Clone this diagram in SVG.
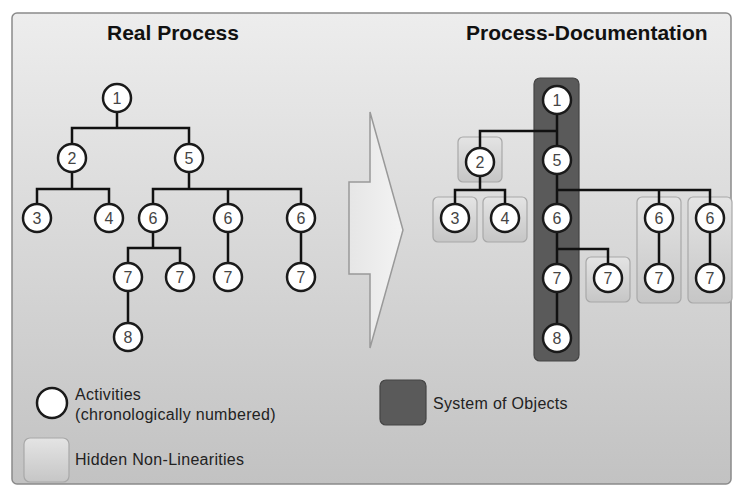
<svg xmlns="http://www.w3.org/2000/svg" width="733" height="487" viewBox="0 0 733 487">
<defs>
<linearGradient id="bg" x1="0" y1="0" x2="0" y2="1">
<stop offset="0" stop-color="#ededed"/>
<stop offset="1" stop-color="#c2c2c2"/>
</linearGradient>
<linearGradient id="lbox" x1="0" y1="0" x2="0" y2="1">
<stop offset="0" stop-color="#e4e4e4"/>
<stop offset="1" stop-color="#c6c6c6"/>
</linearGradient>
<linearGradient id="arr" x1="0" y1="0" x2="1" y2="0">
<stop offset="0" stop-color="#e6e6e6"/>
<stop offset="1" stop-color="#f3f3f3"/>
</linearGradient>
<style>
.act circle{fill:#fff;stroke:#1a1a1a;stroke-width:2.5}
.act text{font-family:"Liberation Sans",Arial,sans-serif;font-size:16px;fill:#444;text-anchor:middle}
.hnl{fill:url(#lbox);stroke:#a8a8a8;stroke-width:1.2}
.sys{fill:#5a5a5a;stroke:#444;stroke-width:1.2}
.conn{fill:none;stroke:#111;stroke-width:2.5}
.title{font-family:"Liberation Sans",Arial,sans-serif;font-size:21px;font-weight:bold;fill:#111}
.leg{font-family:"Liberation Sans",Arial,sans-serif;font-size:16px;letter-spacing:0.3px;fill:#222}
</style>
</defs>
<rect x="0" y="0" width="733" height="487" fill="#fff"/>
<rect x="12" y="13" width="719" height="471" rx="5" fill="url(#bg)" stroke="#8a8a8a" stroke-width="1.5"/>
<text class="title" x="107" y="40">Real Process</text>
<text class="title" x="466" y="40">Process-Documentation</text>
<g id="arrow">
<path d="M370,112 L403,230 L370,348 L370,274 L349,274 L349,182 L370,182 Z" fill="url(#arr)" stroke="#999" stroke-width="1.5"/>
</g>
<g id="system-of-objects"><rect class="sys" x="534" y="78" width="45" height="283" rx="6"/></g>
<g id="hidden-nonlinearities">
<rect class="hnl" x="458" y="137" width="44" height="45" rx="5"/>
<rect class="hnl" x="433" y="197" width="44" height="45" rx="5"/>
<rect class="hnl" x="483" y="197" width="44" height="45" rx="5"/>
<rect class="hnl" x="586" y="257" width="44" height="45" rx="5"/>
<rect class="hnl" x="637" y="197" width="44" height="106" rx="5"/>
<rect class="hnl" x="688" y="197" width="44" height="106" rx="5"/>
</g>
<g id="connectors">
<path class="conn" d="M117,113 V128 M72,143 V128 H189 V143 M72,173 V189 M37,203 V189 H109 V203 M189,173 V189 M153,203 V189 H301 V203 M228,189 V203 M153,233 V248 M128,262 V248 H180 V262 M228,233 V262 M301,233 V262 M128,292 V322"/>
<path class="conn" d="M557,115 V145 M557,131 H480 V147 M480,177 V190 M455,203 V190 H505 V203 M557,175 V203 M557,190 H710 V203 M659,190 V203 M557,233 V263 M557,249 H608 V263 M557,293 V323 M659,233 V263 M710,233 V263"/>
</g>
<g id="r1" class="act"><circle cx="117" cy="98" r="14"/><text x="117" y="104">1</text></g>
<g id="r2" class="act"><circle cx="72" cy="158" r="14"/><text x="72" y="164">2</text></g>
<g id="r5" class="act"><circle cx="189" cy="158" r="14"/><text x="189" y="164">5</text></g>
<g id="r3" class="act"><circle cx="37" cy="218" r="14"/><text x="37" y="224">3</text></g>
<g id="r4" class="act"><circle cx="109" cy="218" r="14"/><text x="109" y="224">4</text></g>
<g id="r6a" class="act"><circle cx="153" cy="218" r="14"/><text x="153" y="224">6</text></g>
<g id="r6b" class="act"><circle cx="228" cy="218" r="14"/><text x="228" y="224">6</text></g>
<g id="r6c" class="act"><circle cx="301" cy="218" r="14"/><text x="301" y="224">6</text></g>
<g id="r7a" class="act"><circle cx="128" cy="277" r="14"/><text x="128" y="283">7</text></g>
<g id="r7b" class="act"><circle cx="180" cy="277" r="14"/><text x="180" y="283">7</text></g>
<g id="r7c" class="act"><circle cx="228" cy="277" r="14"/><text x="228" y="283">7</text></g>
<g id="r7d" class="act"><circle cx="301" cy="277" r="14"/><text x="301" y="283">7</text></g>
<g id="r8" class="act"><circle cx="128" cy="337" r="14"/><text x="128" y="343">8</text></g>
<g id="d1" class="act"><circle cx="557" cy="100" r="14"/><text x="557" y="106">1</text></g>
<g id="d2" class="act"><circle cx="480" cy="162" r="14"/><text x="480" y="168">2</text></g>
<g id="d5" class="act"><circle cx="557" cy="160" r="14"/><text x="557" y="166">5</text></g>
<g id="d3" class="act"><circle cx="455" cy="218" r="14"/><text x="455" y="224">3</text></g>
<g id="d4" class="act"><circle cx="505" cy="218" r="14"/><text x="505" y="224">4</text></g>
<g id="d6a" class="act"><circle cx="557" cy="218" r="14"/><text x="557" y="224">6</text></g>
<g id="d6b" class="act"><circle cx="659" cy="218" r="14"/><text x="659" y="224">6</text></g>
<g id="d6c" class="act"><circle cx="710" cy="218" r="14"/><text x="710" y="224">6</text></g>
<g id="d7a" class="act"><circle cx="557" cy="278" r="14"/><text x="557" y="284">7</text></g>
<g id="d7b" class="act"><circle cx="608" cy="278" r="14"/><text x="608" y="284">7</text></g>
<g id="d7c" class="act"><circle cx="659" cy="278" r="14"/><text x="659" y="284">7</text></g>
<g id="d7d" class="act"><circle cx="710" cy="278" r="14"/><text x="710" y="284">7</text></g>
<g id="d8" class="act"><circle cx="557" cy="338" r="14"/><text x="557" y="344">8</text></g>
<g id="legend-activities">
<g class="act"><circle cx="52" cy="403" r="15"/></g>
<text class="leg" x="75" y="400">Activities</text>
<text class="leg" x="75" y="420">(chronologically numbered)</text>
</g>
<g id="legend-hidden">
<rect class="hnl" x="24" y="438" width="45" height="44" rx="6"/>
<text class="leg" x="75" y="465">Hidden Non-Linearities</text>
</g>
<g id="legend-system">
<rect class="sys" x="380" y="380" width="46" height="45" rx="6"/>
<text class="leg" x="433" y="409">System of Objects</text>
</g>
</svg>
